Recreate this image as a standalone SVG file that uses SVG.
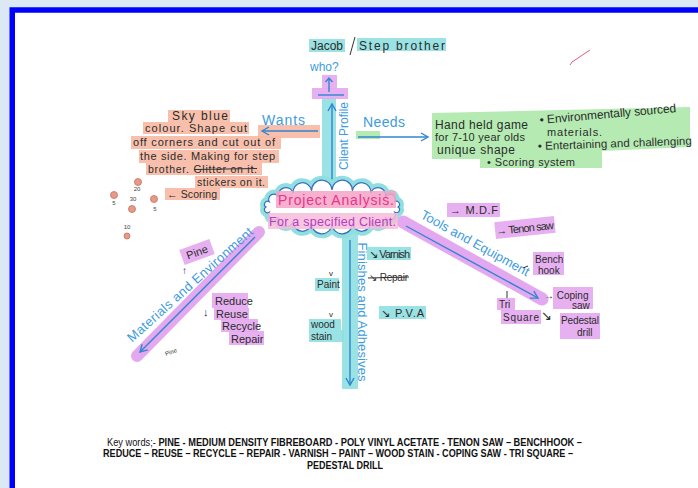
<svg xmlns="http://www.w3.org/2000/svg" width="698" height="488" viewBox="0 0 698 488">
<defs>
<style>
.hw{font-family:"Liberation Sans","DejaVu Sans",sans-serif;fill:#2b2b2b}
.bl{font-family:"Liberation Sans","DejaVu Sans",sans-serif;fill:#3d9be0}
.teal{fill:#8fdfe0;opacity:.9}
.lav{fill:#e4a8f0;opacity:.9}
.org{fill:#f7b9a3;opacity:.9}
.grn{fill:#a8e8a4;opacity:.85}
.dot{fill:#e99a86;stroke:#c07262;stroke-width:0.8}
.num{font-family:"Liberation Sans",sans-serif;font-size:6px;fill:#444;text-anchor:middle}
.kw{font-family:"Liberation Sans",Arial,sans-serif;font-size:10px;fill:#111;text-anchor:middle}
.bline{stroke:#2f86cf;stroke-width:1.4;fill:none}
.ink{stroke:#333;stroke-width:1;fill:none}
</style>
<marker id="ab" markerWidth="10" markerHeight="10" refX="8" refY="5" orient="auto" markerUnits="userSpaceOnUse"><path d="M1,1 L8,5 L1,9" fill="none" stroke="#2f86cf" stroke-width="1.4"/></marker>
</defs>
<rect x="0" y="0" width="698" height="488" fill="#dde8f5"/>
<rect x="12.25" y="10" width="700" height="490" fill="#ffffff" stroke="#0000ff" stroke-width="5.5"/>

<g id="connectors">
  <rect x="322" y="98" width="14" height="84" class="teal"/>
  <line x1="332" y1="180" x2="332" y2="104" class="bline" marker-end="url(#ab)"/>
  <rect x="258" y="125" width="62" height="13" class="org"/>
  <line x1="318" y1="131" x2="262" y2="131" class="bline" marker-end="url(#ab)"/>
  <rect x="356" y="131" width="24" height="8" class="grn" opacity=".5"/>
  <line x1="358" y1="137" x2="428" y2="137" class="bline" marker-end="url(#ab)"/>
  <line x1="403" y1="222" x2="542" y2="299" stroke="#e4a8f0" stroke-width="13" stroke-linecap="round"/>
  <line x1="406" y1="226" x2="538" y2="298" class="bline" marker-end="url(#ab)"/>
  <line x1="259" y1="232" x2="137" y2="356" stroke="#e4a8f0" stroke-width="12" stroke-linecap="round"/>
  <line x1="255" y1="237" x2="140" y2="352" class="bline" marker-end="url(#ab)"/>
  <rect x="342" y="232" width="16" height="157" class="teal"/>
  <line x1="350" y1="240" x2="350" y2="385" class="bline" marker-end="url(#ab)"/>
</g>

<g id="client-profile">
  <text class="bl" font-size="12" transform="translate(348,136) rotate(-90)" text-anchor="middle">Client Profile</text>
</g>

<g id="who">
  <rect x="322" y="75" width="15" height="14" class="lav"/>
  <rect x="312" y="88" width="36" height="11" class="lav"/>
  <line x1="329" y1="92" x2="329" y2="79" class="bline"/>
  <path d="M325.5,82 L329,78 L332.5,82" class="bline"/>
  <line x1="318" y1="95" x2="344" y2="95" class="bline"/>
  <text class="bl" font-size="12" x="310" y="71">who?</text>
</g>

<g id="jacob">
  <rect x="309" y="39" width="36" height="13" class="teal"/>
  <rect x="357" y="38" width="89" height="13" class="teal"/>
  <text class="hw" font-size="12" x="311" y="50">Jacob</text>
  <line x1="355" y1="37" x2="350" y2="55" class="ink" stroke-width="1.3"/>
  <text class="hw" font-size="12" x="359" y="50" textLength="86">Step brother</text>
</g>

<path d="M570,65 L572,62 L590,50" stroke="#e05a8a" stroke-width="1" fill="none"/>

<g id="wants">
  <text class="bl" font-size="14" x="262" y="125" textLength="43">Wants</text>
</g>

<g id="sky-blue">
  <rect x="168" y="110" width="62" height="12" class="org"/>
  <rect x="143" y="122" width="106" height="12" class="org"/>
  <rect x="131" y="136" width="150" height="13" class="org"/>
  <rect x="139" y="150" width="140" height="13" class="org"/>
  <rect x="146" y="163" width="116" height="12" class="org"/>
  <rect x="195" y="176" width="73" height="12" class="org"/>
  <text class="hw" font-size="12" x="172" y="120" textLength="56">Sky blue</text>
  <text class="hw" font-size="11" x="145" y="132" textLength="102">colour. Shape cut</text>
  <text class="hw" font-size="11" x="133" y="146" textLength="142">off corners and cut out of</text>
  <text class="hw" font-size="11" x="140" y="160" textLength="135">the side. Making for step</text>
  <text class="hw" font-size="10.5" x="148" y="173" textLength="109">brother. Glitter on it.</text>
  <line x1="194" y1="169.5" x2="257" y2="168.5" class="ink" stroke-width="1.2"/>
  <text class="hw" font-size="10.5" x="197" y="186" textLength="68">stickers on it.</text>
</g>

<g id="scoring">
  <rect x="165" y="188" width="55" height="12" class="org"/>
  <text class="hw" font-size="10.5" x="167" y="198" textLength="50">← Scoring</text>
  <circle cx="138" cy="182" r="3.5" class="dot"/><text class="num" x="137" y="191">20</text>
  <circle cx="114" cy="195" r="3.5" class="dot"/><text class="num" x="114" y="205">5</text>
  <text class="num" x="133" y="201">30</text><circle cx="132" cy="209" r="3.5" class="dot"/>
  <circle cx="154" cy="199" r="3.5" class="dot"/><text class="num" x="155" y="211">5</text>
  <text class="num" x="127" y="229">10</text><circle cx="127" cy="236" r="3" class="dot"/>
</g>

<g id="needs">
  <text class="bl" font-size="14" x="363" y="127" textLength="42">Needs</text>
  <path d="M432,113 L690,107 L690,147 L602,151 L602,168 L480,168 L480,159 L432,159 Z" class="grn"/>
  <text class="hw" font-size="12" x="435" y="129" textLength="93">Hand held game</text>
  <text class="hw" font-size="11" x="435" y="141" textLength="90">for 7-10 year olds</text>
  <text class="hw" font-size="12" x="437" y="154" textLength="78">unique shape</text>
  <text class="hw" font-size="11" x="487" y="166" textLength="88">• Scoring system</text>
  <text class="hw" font-size="12" x="540" y="124" textLength="137" transform="rotate(-5 540 124)">• Environmentally sourced</text>
  <text class="hw" font-size="11" x="547" y="136" textLength="55">materials.</text>
  <text class="hw" font-size="11.5" x="538" y="150" textLength="154" transform="rotate(-2 538 150)">• Entertaining and challenging</text>
</g>

<g id="project-analysis">
  <path d="M398,207 A1,1 0 0 1 394.8,212.3 A1,1 0 0 1 385.4,217 A1,1 0 0 1 370.8,220.8 A1,1 0 0 1 352.4,223.2 A1,1 0 0 1 332,224 A1,1 0 0 1 311.6,223.2 A1,1 0 0 1 293.2,220.8 A1,1 0 0 1 278.6,217 A1,1 0 0 1 269.2,212.3 A1,1 0 0 1 266,207 A1,1 0 0 1 269.2,201.7 A1,1 0 0 1 278.6,197 A1,1 0 0 1 293.2,193.2 A1,1 0 0 1 311.6,190.8 A1,1 0 0 1 332,190 A1,1 0 0 1 352.4,190.8 A1,1 0 0 1 370.8,193.2 A1,1 0 0 1 385.4,197 A1,1 0 0 1 394.8,201.7 A1,1 0 0 1 398,207 Z" fill="#ffffff" stroke="#8fdfe0" stroke-width="9" stroke-linejoin="round"/>
  <path d="M398,207 A1,1 0 0 1 394.8,212.3 A1,1 0 0 1 385.4,217 A1,1 0 0 1 370.8,220.8 A1,1 0 0 1 352.4,223.2 A1,1 0 0 1 332,224 A1,1 0 0 1 311.6,223.2 A1,1 0 0 1 293.2,220.8 A1,1 0 0 1 278.6,217 A1,1 0 0 1 269.2,212.3 A1,1 0 0 1 266,207 A1,1 0 0 1 269.2,201.7 A1,1 0 0 1 278.6,197 A1,1 0 0 1 293.2,193.2 A1,1 0 0 1 311.6,190.8 A1,1 0 0 1 332,190 A1,1 0 0 1 352.4,190.8 A1,1 0 0 1 370.8,193.2 A1,1 0 0 1 385.4,197 A1,1 0 0 1 394.8,201.7 A1,1 0 0 1 398,207 Z" fill="#ffffff" stroke="#3a6fc0" stroke-width="1.2"/>
  <rect x="276" y="191" width="120" height="17" fill="#f5a3c7" opacity=".85"/>
  <rect x="268" y="213" width="130" height="16" fill="#f7bcd8" opacity=".85"/>
  <text font-family="Liberation Sans,sans-serif" font-size="14" fill="#e8348c" x="278" y="205" textLength="116">Project Analysis.</text>
  <text font-family="Liberation Sans,sans-serif" font-size="12.5" fill="#b43cc4" x="269" y="226" textLength="127">For a specified Client.</text>
</g>

<g id="tools">
  <text class="bl" font-size="13" transform="translate(473,247) rotate(29)" text-anchor="middle" textLength="122">Tools and Equipment</text>
</g>
<g id="mdf">
  <rect x="447" y="203" width="53" height="14" class="lav"/>
  <text class="hw" font-size="11" x="450" y="214" textLength="48">→ M.D.F</text>
</g>
<g id="tenon-saw" transform="translate(525,228) rotate(-6)">
  <rect x="-30" y="-9" width="60" height="17" class="lav"/>
  <text class="hw" font-size="11" x="0" y="4" text-anchor="middle" textLength="58">→ Tenon saw</text>
</g>
<g id="bench-hook">
  <rect x="533" y="252" width="31" height="23" class="lav"/>
  <line x1="523" y1="268" x2="528" y2="266" class="ink"/>
  <text class="hw" font-size="10" x="535" y="263">Bench</text>
  <text class="hw" font-size="10" x="538" y="274">hook</text>
</g>
<g id="tri-square">
  <rect x="497" y="298" width="18" height="12" class="lav"/>
  <rect x="501" y="310" width="40" height="14" class="lav"/>
  <line x1="507" y1="291" x2="507" y2="298" class="ink"/>
  <text class="hw" font-size="10" x="499" y="308">Tri</text>
  <text class="hw" font-size="10" x="503" y="321" textLength="36">Square</text>
</g>
<g id="coping-saw">
  <rect x="553" y="287" width="40" height="22" class="lav"/>
  <text class="hw" font-size="10" x="544" y="299">→ Coping</text>
  <text class="hw" font-size="10" x="572" y="309">saw</text>
</g>
<g id="pedestal-drill">
  <rect x="560" y="313" width="40" height="26" class="lav"/>
  <text class="hw" font-size="13" x="541" y="320">↘</text>
  <text class="hw" font-size="10" x="561" y="324" textLength="38">Pedestal</text>
  <text class="hw" font-size="10" x="577" y="336">drill</text>
</g>

<g id="materials">
  <text class="bl" font-size="13" transform="translate(193,288) rotate(-42)" text-anchor="middle" textLength="164">Materials and Environment</text>
</g>
<g id="pine">
  <g transform="translate(197,252) rotate(-20)">
    <rect x="-16" y="-8" width="32" height="16" class="lav"/>
    <text class="hw" font-size="11" x="0" y="4" text-anchor="middle">Pine</text>
  </g>
  <text class="hw" font-size="10" x="182" y="274">↑</text>
  <text class="hw" font-size="6" transform="translate(166,356) rotate(-20)">Pine</text>
</g>
<g id="reduce">
  <rect x="212" y="293" width="36" height="15" class="lav"/>
  <rect x="214" y="308" width="35" height="12" class="lav"/>
  <rect x="221" y="319" width="37" height="13" class="lav"/>
  <rect x="229" y="331" width="35" height="14" class="lav"/>
  <text class="hw" font-size="11" x="203" y="316">↓</text>
  <text class="hw" font-size="11" x="215" y="305">Reduce</text>
  <text class="hw" font-size="11" x="216" y="318">Reuse</text>
  <text class="hw" font-size="11" x="222" y="330">Recycle</text>
  <text class="hw" font-size="11" x="231" y="343">Repair</text>
</g>

<g id="finishes">
  <text class="bl" font-size="13" transform="translate(358,312) rotate(90)" text-anchor="middle" textLength="139">Finishes and Adhesives</text>
</g>
<g id="varnish">
  <rect x="367" y="247" width="44" height="13" class="teal"/>
  <text class="hw" font-size="11" x="369" y="258" textLength="41">↘ Varnish</text>
</g>
<g id="repair-struck">
  <text class="hw" font-size="10" x="369" y="281" textLength="39">↘ Repair</text>
  <line x1="368" y1="278" x2="409" y2="277" class="ink" stroke-width="1.2"/>
</g>
<g id="paint">
  <rect x="315" y="278" width="24" height="13" class="teal"/>
  <text class="hw" font-size="8" x="331" y="276" text-anchor="middle">v</text>
  <text class="hw" font-size="10" x="317" y="288">Paint</text>
</g>
<g id="pva">
  <rect x="379" y="306" width="47" height="13" class="teal"/>
  <text class="hw" font-size="11" x="381" y="317" textLength="43">↘ P.V.A</text>
</g>
<g id="wood-stain">
  <rect x="309" y="319" width="32" height="11" class="teal"/>
  <rect x="309" y="330" width="35" height="12" class="teal"/>
  <text class="hw" font-size="8" x="331" y="317" text-anchor="middle">v</text>
  <text class="hw" font-size="10" x="311" y="328">wood</text>
  <text class="hw" font-size="10" x="311" y="340">stain</text>
</g>

<g id="keywords">
  <text class="kw" x="344.5" y="446" textLength="475" lengthAdjust="spacingAndGlyphs"><tspan>Key words;- </tspan><tspan font-weight="bold">PINE - MEDIUM DENSITY FIBREBOARD - POLY VINYL ACETATE - TENON SAW – BENCHHOOK –</tspan></text>
  <text class="kw" font-weight="bold" x="338" y="457" textLength="470" lengthAdjust="spacingAndGlyphs">REDUCE – REUSE – RECYCLE – REPAIR - VARNISH – PAINT – WOOD STAIN  - COPING SAW - TRI SQUARE –</text>
  <text class="kw" font-weight="bold" x="345" y="469" textLength="76" lengthAdjust="spacingAndGlyphs">PEDESTAL DRILL</text>
</g>
</svg>
